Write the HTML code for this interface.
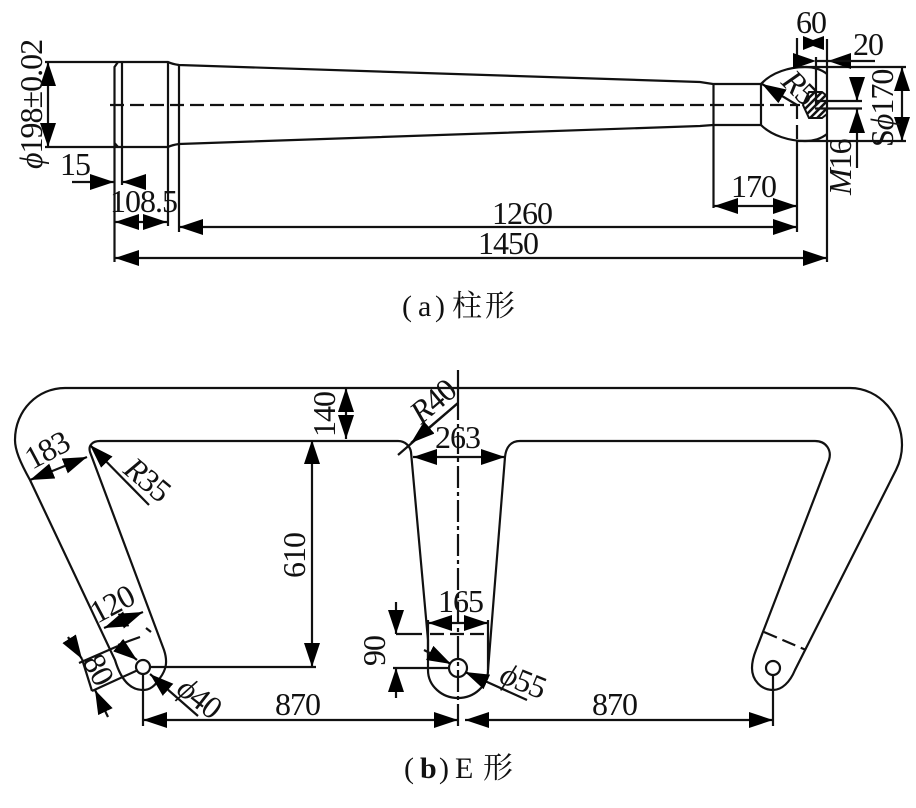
<!DOCTYPE html>
<html><head><meta charset="utf-8"><style>
html,body{margin:0;padding:0;background:#fff}
svg{display:block}
text{font-family:"Liberation Serif","Noto Serif CJK SC",serif;font-size:32px;letter-spacing:-1px;fill:#111}
.cap{font-size:30px;letter-spacing:0}
.l{fill:none;stroke:#111;stroke-width:2.2}
.a{fill:none;stroke:#111;stroke-width:2.2;marker-end:url(#m)}
.b{fill:none;stroke:#111;stroke-width:2.2;marker-start:url(#m2);marker-end:url(#m)}
.d{fill:none;stroke:#111;stroke-width:2.2;stroke-dasharray:14 6}
</style></head><body>
<svg width="916" height="808" viewBox="0 0 916 808" xmlns="http://www.w3.org/2000/svg">
<defs>
<marker id="m" markerUnits="userSpaceOnUse" markerWidth="26" markerHeight="16" refX="24" refY="8" orient="auto"><path d="M0,0L24,8L0,16z" fill="#000"/></marker>
<marker id="m2" markerUnits="userSpaceOnUse" markerWidth="26" markerHeight="16" refX="24" refY="8" orient="auto-start-reverse"><path d="M0,0L24,8L0,16z" fill="#000"/></marker>
<pattern id="h" width="5" height="5" patternUnits="userSpaceOnUse" patternTransform="rotate(-45)"><rect width="5" height="2.500" fill="#111"/></pattern>
</defs>

<!-- column -->
<path class="l" d="M45,62H168Q172,64 179,65L700,82L713,84H761M45,147H168Q172,145 179,144L700,126L713,125H761"/>
<path class="l" d="M114.500,262V67L118,62M114.500,143L118,147M122,61V185M168,62V226M179,65V232M713.500,84V208M761,84V125"/>
<path class="l" d="M761,84C772,72 790,67 805,67C815,67 822,70 827,74M761,125C772,136 790,141 805,141C815,141 822,138 827,134"/>
<path class="l" d="M827,39V262M797,38V60M797,141V232M816,57V105M798,67H906M798,141H906M815,101H862M815,108.500H862"/>
<path class="d" d="M110,105H800M797,105V141"/>
<path d="M809,92H822L827,96V114L822,118H809L803,105z" fill="url(#h)" stroke="#111" stroke-width="2"/>

<path class="a" d="M72,182H114"/><path class="a" d="M146,182H122"/>
<path class="b" d="M115,222H167"/>
<path class="b" d="M179,227H797"/>
<path class="b" d="M115,258H827"/>
<path class="b" d="M714,206H797"/>
<path class="b" d="M48,62V147"/>
<path d="M803,36L813,40L824,36V50L813,46L803,50z" fill="#000"/>
<path d="M793,53L816,61L793,69z" fill="#000"/><path d="M851,53L828,61L851,69z" fill="#000"/>
<path class="l" d="M816,61H875"/>
<path class="a" d="M857,77V101"/><path class="a" d="M857,168V109"/>
<path class="b" d="M902,67V141"/>
<path class="a" d="M797,105L762,84"/>

<text x="60" y="175">15</text>
<text x="110" y="212">108.5</text>
<text x="492" y="224">1260</text>
<text x="478" y="254">1450</text>
<text x="731" y="197">170</text>
<text x="796" y="33">60</text>
<text x="853" y="55">20</text>
<text transform="translate(42,169) rotate(-90)"><tspan font-style="italic">ϕ</tspan>198±0.02</text>
<text transform="translate(851,195) rotate(-90)"><tspan font-style="italic">M</tspan>16</text>
<text transform="translate(893,147) rotate(-90)">S<tspan font-style="italic">ϕ</tspan>170</text>
<text transform="translate(780,83) rotate(45)"><tspan font-style="italic">R</tspan>5</text>
<text class="cap" x="402" y="316">(</text><text class="cap" x="418" y="316">a</text><text class="cap" x="435" y="316">)</text>
<text class="cap" x="452" y="316">柱</text><text class="cap" x="485" y="316">形</text>

<!-- E shape -->
<path class="l" d="M65,388H850C880,388 902,415 902,445C902,455 900,462 896,470L795,670C790,682 782,690 773,690C761,690 752,680 752,668C752,662 754,655 756,650L829,460C832,450 826,441 815,441H520C511,441 506,447 505,457L488,670C488,686 474,698 458,698C442,698 428,686 428,670V640L411,452C410,446 405,441 398,441H100C93,441 88,445 90,452L164,650C168,662 166,670 160,678C155,686 150,690 143,690C130,690 121,680 115,660L30,480C20,462 15,450 15,440C15,410 38,388 65,388Z"/>
<path class="d" d="M764,632L806,650"/>
<circle class="l" cx="773" cy="668" r="7"/>
<circle class="l" cx="143" cy="667" r="7"/>
<circle class="l" cx="458" cy="668" r="9"/>
<path class="l" d="M773,675V726M143,674V726M150,667H316M458,370V398"/>
<path class="l" style="stroke-dasharray:22 4 4 4" d="M458,398V726"/>
<path class="l" d="M428,620V660M488,620V670M396,634H422M393,668H450"/>
<path class="d" d="M430,634H488M146,628L151,632"/>
<path class="b" d="M312,440V667"/>
<path class="b" d="M346,388V439"/>
<path class="b" d="M413,457H505"/>
<path class="b" d="M428,623H488"/>
<path class="a" d="M396,602V634"/><path class="a" d="M396,698V668"/>
<path class="b" d="M143,720H458"/>
<path class="b" d="M465,720H773"/>
<path class="b" d="M30,480L87,457"/>
<path class="a" d="M149,505L90,445"/>
<path class="l" d="M398,455L458,403"/>
<path class="a" d="M458,403L411,443"/>
<path class="b" d="M104,628L143,612"/>
<path class="l" d="M79,663L118,646M92,691L138,670M140,637L118,645"/>
<path class="a" d="M118,645L137,660"/>
<path class="a" d="M68,637L82,659"/>
<path class="a" d="M108,717L95,690"/>
<path class="l" d="M82,659L92,691"/>
<path class="a" d="M198,716L150,674"/>
<path class="a" d="M424,650L451,664"/>
<path class="a" d="M527,700L465,672"/>

<text transform="translate(305,578) rotate(-90)">610</text>
<text transform="translate(335,437) rotate(-90)">140</text>
<text transform="translate(385,666) rotate(-90)">90</text>
<text x="435" y="448">263</text>
<text x="438" y="612">165</text>
<text x="275" y="715">870</text>
<text x="592" y="715">870</text>
<text transform="translate(421,425) rotate(-40)"><tspan font-style="italic">R</tspan>40</text>
<text transform="translate(32,470) rotate(-28)">183</text>
<text transform="translate(122,472) rotate(40)"><tspan font-style="italic">R</tspan>35</text>
<text transform="translate(97,624) rotate(-28)">120</text>
<text transform="translate(82,661) rotate(62)">80</text>
<text transform="translate(175,692) rotate(38)"><tspan font-style="italic">ϕ</tspan>40</text>
<text transform="translate(498,682) rotate(22)"><tspan font-style="italic">ϕ</tspan>55</text>
<text class="cap" x="404" y="778">(</text><text class="cap" x="420" y="778" font-weight="bold">b</text><text class="cap" x="439" y="778">)</text>
<text class="cap" x="455" y="778">E</text><text class="cap" x="483" y="778">形</text>
</svg>
</body></html>
